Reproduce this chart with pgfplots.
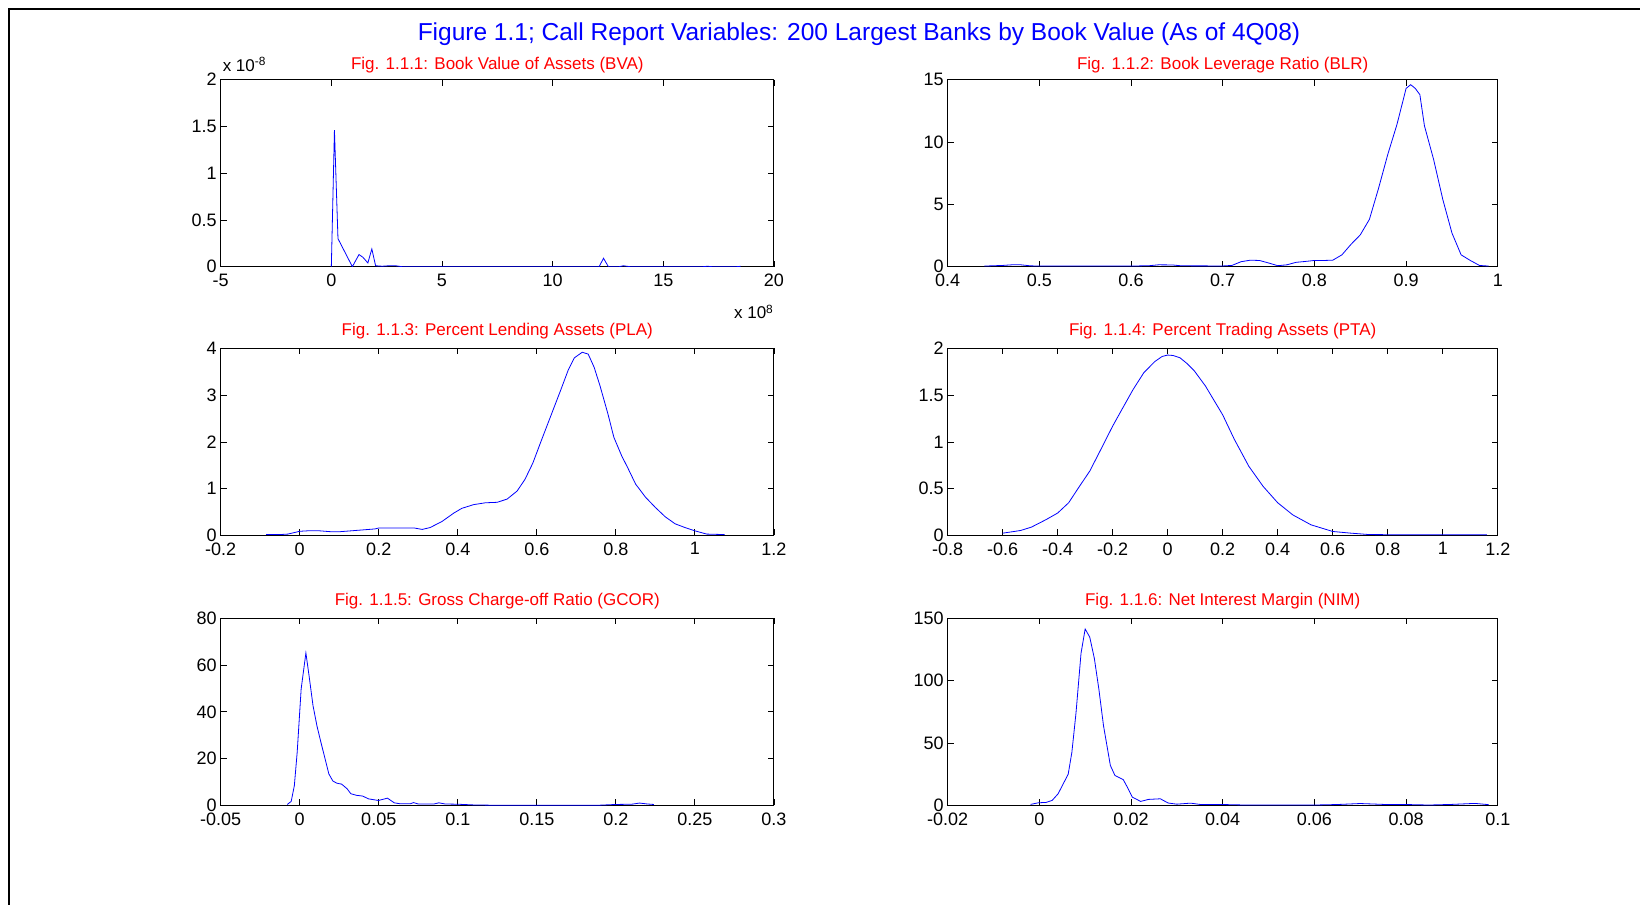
\documentclass[border=0pt]{standalone}
\usepackage{fontspec}
\setmainfont{Liberation Sans}
\usepackage{pgfplots}
\pgfplotsset{compat=1.18}
\definecolor{mblue}{RGB}{0,0,255}
\definecolor{mred}{RGB}{255,0,0}
\pgfplotsset{ml/.style={
  scale only axis, width=276pt, height=93.5pt, anchor=south west,
  axis line style={black, line width=0.5pt},
  tick style={black, line width=0.4pt}, major tick length=3pt,
  tick align=inside, clip mode=individual,
  ticklabel style={font=\fontsize{9}{10}\selectfont},
  yticklabel style={xshift=1.5pt},
  every axis title shift=0pt,
  title style={font=\fontsize{8.5}{10}\selectfont, color=mred, at={(0.5,1)}, anchor=center, yshift=8.75pt},
  no markers,
  cycle list={{mblue, line width=0.5pt}},
}}
\begin{document}
\begin{tikzpicture}
\path[use as bounding box] (0,0) rectangle (820pt,452.5pt);
\draw[line width=0.75pt] (4.5pt,0) -- (4.5pt,448pt) -- (820pt,448pt);
\node[font=\fontsize{12.25}{14}\selectfont, text=mblue] at (429.5pt,435.5pt) {Figure 1.1; Call Report Variables: 200 Largest Banks by Book Value (As of 4Q08)};

% 1.1.1
\begin{axis}[ml, at={(110.35pt,319.15pt)}, width=276.6pt,
  title={Fig. 1.1.1: Book Value of Assets (BVA)}, title style={yshift=-1.25pt},
  xmin=-5, xmax=20, ymin=0, ymax=2,
  xtick={-5,0,5,10,15,20}, xticklabels={-5,0,5,10,15,20},
  ytick={0,0.5,1,1.5,2}, yticklabels={0,0.5,1,1.5,2}]
\addplot coordinates {(0,0)(0.14,1.46)(0.30,0.30)(0.95,0.0)(1.25,0.13)(1.43,0.10)(1.65,0.04)(1.83,0.19)(2.0,0.01)(2.3,0.005)(2.6,0.01)(2.9,0.01)(3.2,0.0)(5,0)(8,0)(10,0)(12.1,0)(12.3,0.09)(12.52,0)(13.0,0)(13.2,0.01)(13.5,0)(16.8,0)(17.0,0.005)(17.2,0)(18.3,0)(18.5,0.004)};
\node[anchor=base west, font=\fontsize{8.5}{10}\selectfont] at (rel axis cs:0,1) [xshift=-2.5pt, yshift=4.25pt] {x 10\textsuperscript{-8}};
\node[anchor=base east, font=\fontsize{8.5}{10}\selectfont] at (rel axis cs:1,0) [xshift=3.5pt, yshift=-26pt] {x 10\textsuperscript{8}};
\end{axis}

% 1.1.2
\begin{axis}[ml, at={(473.8pt,319.15pt)}, width=275.1pt,
  title={Fig. 1.1.2: Book Leverage Ratio (BLR)}, title style={yshift=-1.25pt},
  xmin=0.4, xmax=1, ymin=0, ymax=15,
  xtick={0.4,0.5,0.6,0.7,0.8,0.9,1}, xticklabels={0.4,0.5,0.6,0.7,0.8,0.9,1},
  ytick={0,5,10,15}, yticklabels={0,5,10,15}]
\addplot coordinates {(0.44,0.05)(0.46,0.1)(0.47,0.15)(0.48,0.15)(0.49,0.07)(0.5,0.05)(0.55,0.05)(0.6,0.05)(0.62,0.08)(0.63,0.15)(0.645,0.14)(0.655,0.07)(0.7,0.06)(0.71,0.1)(0.72,0.4)(0.73,0.52)(0.74,0.5)(0.75,0.3)(0.76,0.08)(0.77,0.15)(0.78,0.35)(0.79,0.42)(0.80,0.5)(0.81,0.5)(0.82,0.52)(0.83,0.95)(0.84,1.8)(0.85,2.55)(0.86,3.8)(0.87,6.3)(0.88,9.0)(0.89,11.4)(0.9,14.3)(0.905,14.6)(0.91,14.3)(0.915,13.8)(0.92,11.3)(0.93,8.6)(0.94,5.4)(0.95,2.7)(0.96,0.95)(0.97,0.5)(0.98,0.1)(0.99,0.05)};
\end{axis}

% 1.1.3
\begin{axis}[ml, at={(110.35pt,184.75pt)}, width=276.6pt,
  title={Fig. 1.1.3: Percent Lending Assets (PLA)},
  xmin=-0.2, xmax=1.2, ymin=0, ymax=4,
  xtick={-0.2,0,0.2,0.4,0.6,0.8,1,1.2}, xticklabels={-0.2,0,0.2,0.4,0.6,0.8,1,1.2},
  ytick={0,1,2,3,4}, yticklabels={0,1,2,3,4}]
\addplot coordinates {(-0.085,0.02)(-0.05,0.02)(-0.03,0.03)(-0.01,0.07)(0.0,0.09)(0.02,0.1)(0.05,0.1)(0.08,0.08)(0.1,0.08)(0.13,0.1)(0.16,0.12)(0.19,0.14)(0.2,0.16)(0.25,0.16)(0.29,0.16)(0.31,0.13)(0.33,0.17)(0.36,0.3)(0.39,0.48)(0.41,0.58)(0.44,0.66)(0.47,0.7)(0.5,0.71)(0.525,0.78)(0.55,0.95)(0.57,1.2)(0.59,1.55)(0.61,2.0)(0.635,2.55)(0.66,3.1)(0.68,3.55)(0.695,3.8)(0.715,3.92)(0.73,3.88)(0.745,3.6)(0.76,3.2)(0.78,2.6)(0.795,2.1)(0.815,1.7)(0.83,1.45)(0.85,1.1)(0.875,0.82)(0.9,0.6)(0.925,0.4)(0.95,0.25)(0.975,0.17)(1.0,0.1)(1.03,0.03)(1.075,0.02)};
\end{axis}

% 1.1.4
\begin{axis}[ml, at={(473.8pt,184.75pt)}, width=275.1pt,
  title={Fig. 1.1.4: Percent Trading Assets (PTA)},
  xmin=-0.8, xmax=1.2, ymin=0, ymax=2,
  xtick={-0.8,-0.6,-0.4,-0.2,0,0.2,0.4,0.6,0.8,1,1.2}, xticklabels={-0.8,-0.6,-0.4,-0.2,0,0.2,0.4,0.6,0.8,1,1.2},
  ytick={0,0.5,1,1.5,2}, yticklabels={0,0.5,1,1.5,2}]
\addplot coordinates {(-0.6,0.025)(-0.558,0.043)(-0.534,0.054)(-0.495,0.09)(-0.442,0.17)(-0.4,0.24)(-0.36,0.35)(-0.322,0.52)(-0.283,0.69)(-0.243,0.92)(-0.2,1.17)(-0.166,1.35)(-0.126,1.56)(-0.087,1.74)(-0.047,1.86)(-0.02,1.915)(0,1.93)(0.02,1.925)(0.045,1.90)(0.07,1.84)(0.097,1.76)(0.137,1.60)(0.2,1.29)(0.242,1.03)(0.295,0.74)(0.347,0.525)(0.4,0.35)(0.455,0.22)(0.521,0.114)(0.6,0.043)(0.666,0.025)(0.732,0.01)(0.89,0.007)(1.16,0.007)};
\end{axis}

% 1.1.5
\begin{axis}[ml, at={(110.35pt,49.8pt)}, width=276.6pt,
  title={Fig. 1.1.5: Gross Charge-off Ratio (GCOR)},
  xmin=-0.05, xmax=0.3, ymin=0, ymax=80,
  xtick={-0.05,0,0.05,0.1,0.15,0.2,0.25,0.3}, xticklabels={-0.05,0,0.05,0.1,0.15,0.2,0.25,0.3},
  ytick={0,20,40,60,80}, yticklabels={0,20,40,60,80}]
\addplot coordinates {(-0.0079,0.4)(-0.0054,1.7)(-0.0034,8.5)(-0.0016,22.8)(0.0009,49.8)(0.0039,65.2)(0.0059,55.5)(0.0084,42.7)(0.0109,34)(0.0134,27)(0.016,20)(0.0184,13.5)(0.021,10.4)(0.0235,9.5)(0.0265,9.1)(0.03,7.1)(0.0323,5)(0.036,4.3)(0.0398,4)(0.0435,2.8)(0.0498,2.1)(0.0555,3.1)(0.0598,1.1)(0.0635,0.7)(0.07,0.7)(0.072,1.2)(0.075,0.6)(0.085,0.6)(0.088,1.1)(0.092,0.6)(0.1,0.5)(0.11,0.2)(0.12,0.1)(0.19,0.1)(0.2,0.4)(0.21,0.5)(0.215,1.0)(0.22,0.6)(0.224,0.4)};
\end{axis}

% 1.1.6
\begin{axis}[ml, at={(473.8pt,49.8pt)}, width=275.1pt,
  title={Fig. 1.1.6: Net Interest Margin (NIM)},
  xmin=-0.02, xmax=0.1, ymin=0, ymax=150,
  xtick={-0.02,0,0.02,0.04,0.06,0.08,0.1}, xticklabels={-0.02,0,0.02,0.04,0.06,0.08,0.1},
  ytick={0,50,100,150}, yticklabels={0,50,100,150}]
\addplot coordinates {(-0.0019,0.8)(-0.0002,2.1)(0.0015,2.4)(0.0028,4)(0.0041,9.3)(0.0054,18.6)(0.0063,25)(0.0071,42.5)(0.008,74)(0.0091,122)(0.01,141.5)(0.011,135)(0.012,118)(0.013,93)(0.014,64)(0.0155,32)(0.0165,24)(0.0183,20.7)(0.019,16)(0.0203,6.6)(0.0221,3.2)(0.0238,4.8)(0.0264,5.3)(0.0281,1.9)(0.03,1.0)(0.033,1.8)(0.035,0.8)(0.04,0.7)(0.045,0.3)(0.06,0.3)(0.065,0.7)(0.07,1.5)(0.075,0.8)(0.08,0.7)(0.085,0.3)(0.09,0.8)(0.095,1.6)(0.098,0.6)};
\end{axis}
\end{tikzpicture}
\end{document}
